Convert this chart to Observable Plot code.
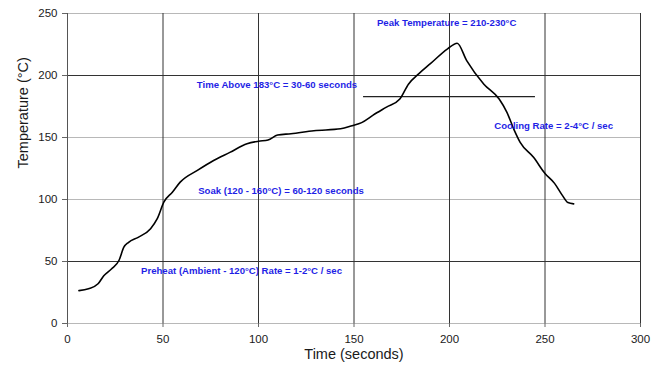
<!DOCTYPE html>
<html>
<head>
<meta charset="utf-8">
<script src="https://cdn.jsdelivr.net/npm/d3@7"></script>
<script src="https://cdn.jsdelivr.net/npm/@observablehq/plot@0.6"></script>
<style>
  html, body { margin: 0; padding: 0; background: #fff; }
  #chart { width: 660px; height: 371px; }
</style>
</head>
<body>
<div id="chart"></div>
<script>
// Reflow profile: time (s) vs temperature (°C)
const timeSec = [6, 11, 16, 19, 23, 27, 29.5, 32, 37, 43.5, 47, 50.5, 55, 59, 68, 76.5, 85, 94, 100, 105, 110, 117, 129, 143, 149, 154, 160, 167, 174, 178.5, 184, 190, 199, 204, 209, 218, 226, 230, 234, 237, 244, 250, 255, 259, 262, 265];
const tempC   = [26.5, 28, 32, 38.5, 44, 51, 61.5, 65.5, 69.5, 76.5, 84.5, 98, 106, 114, 123.5, 131.5, 138, 145, 147, 148, 152, 153, 155.5, 157, 159.5, 162, 168, 174.5, 181, 193, 201.5, 209.5, 221.5, 226, 212, 193, 181, 170.5, 155.5, 146, 134, 121, 113, 103.5, 97.5, 96.5];

// 183°C reference segment
const refTemp = 183;
const refStart = 155;
const refEnd = 245;

// Axis ticks
const xTicks = [0, 50, 100, 150, 200, 250, 300];
const yTicks = [0, 50, 100, 150, 200, 250];
const yDarkRows = [50, 200];
const yLightRows = [0, 100, 150, 250];

// Annotations
const noteText = [
  "Peak Temperature = 210-230°C",
  "Time Above 183°C = 30-60 seconds",
  "Cooling Rate = 2-4°C / sec",
  "Soak (120 - 160°C) = 60-120 seconds",
  "Preheat (Ambient - 120°C) Rate = 1-2°C / sec"
];
const noteTime = [198.5, 109.7, 254.5, 111.8, 91.1];
const noteTemp = [242, 192, 159.7, 107.3, 42.7];

const xTitle = "Time (seconds)";
const yTitle = "Temperature (°C)";

const curve = timeSec.map((t, i) => ({t, v: tempC[i]}));
const notes = noteText.map((s, i) => ({s, t: noteTime[i], v: noteTemp[i]}));

const chart = Plot.plot({
  width: 660,
  height: 371,
  marginLeft: 67,
  marginRight: 20,
  marginTop: 13,
  marginBottom: 48,
  x: {domain: [0, 300]},
  y: {domain: [0, 250]},
  style: {fontFamily: "'Liberation Sans', Arial, sans-serif", fontSize: "11.5px", color: "#1a1a1a", background: "#fff"},
  marks: [
    Plot.ruleY(yLightRows, {stroke: "#b8b8b8", strokeWidth: 1}),
    Plot.ruleY(yDarkRows, {stroke: "#333", strokeWidth: 1}),
    Plot.ruleX(xTicks.filter(d => d > 0), {stroke: "#333", strokeWidth: 1}),
    Plot.ruleX([0], {stroke: "#555", strokeWidth: 1}),
    Plot.axisX({ticks: xTicks, tickSize: 4, tickPadding: 7, label: null, stroke: "#666"}),
    Plot.axisY({ticks: yTicks, tickSize: 5, tickPadding: 5, label: null, stroke: "#666"}),
    Plot.ruleY([refTemp], {x1: refStart, x2: refEnd, stroke: "#222", strokeWidth: 1.3}),
    Plot.line(curve, {x: "t", y: "v", stroke: "#000", strokeWidth: 1.6, curve: "monotone-x"}),
    Plot.text(notes, {x: "t", y: "v", text: "s", fill: "#1f1fe6", fontWeight: "bold", fontSize: 9.6, textAnchor: "middle"}),
    Plot.text([xTitle], {frameAnchor: "bottom", dy: 35, fontSize: 14.5, fill: "#1a1a1a"}),
    Plot.text([yTitle], {frameAnchor: "left", dx: -44, rotate: -90, fontSize: 14.5, fill: "#1a1a1a"})
  ]
});
document.getElementById("chart").appendChild(chart);
</script>
</body>
</html>
